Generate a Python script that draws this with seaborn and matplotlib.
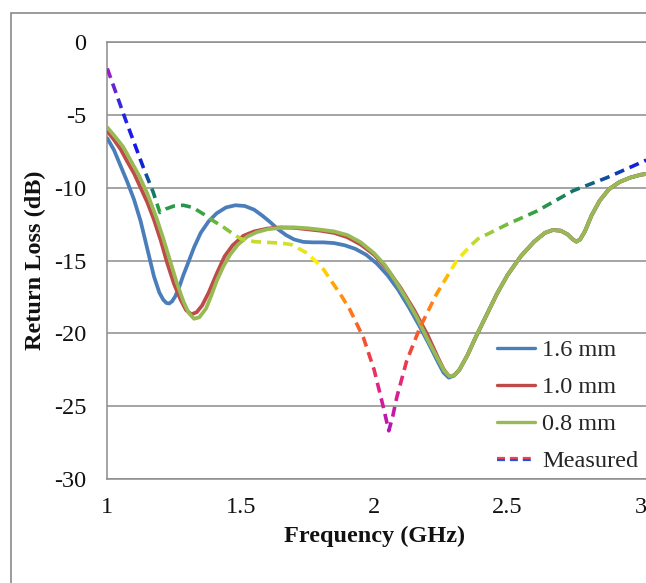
import numpy as np
import pandas as pd
import matplotlib
matplotlib.use('Agg')
import matplotlib.pyplot as plt
import seaborn as sns
from matplotlib.collections import LineCollection
from matplotlib.colors import LinearSegmentedColormap, Normalize
from matplotlib.legend_handler import HandlerBase
from matplotlib.lines import Line2D
from matplotlib.patches import Rectangle

# --- data (frequency in GHz, return loss in dB) ---
freq_16 = [1.000, 1.025, 1.050, 1.075, 1.100, 1.125, 1.150, 1.175, 1.195, 1.210,
           1.222, 1.232, 1.243, 1.255, 1.270, 1.285, 1.300, 1.325, 1.350, 1.380,
           1.410, 1.445, 1.480, 1.515, 1.550, 1.580, 1.610, 1.640, 1.670, 1.700,
           1.735, 1.770, 1.810, 1.850, 1.890, 1.930, 1.970, 2.010, 2.050, 2.090,
           2.130, 2.170, 2.210, 2.240, 2.260, 2.280]
rl_16 = [-6.6, -7.4, -8.5, -9.6, -10.8, -12.3, -14.2, -16.1, -17.2, -17.7,
         -17.92, -17.95, -17.8, -17.45, -16.8, -16.0, -15.3, -14.1, -13.1, -12.3,
         -11.75, -11.35, -11.2, -11.25, -11.5, -11.9, -12.35, -12.85, -13.25, -13.55,
         -13.72, -13.75, -13.75, -13.8, -13.95, -14.2, -14.6, -15.2, -16.0, -17.0,
         -18.2, -19.5, -20.9, -22.0, -22.7, -23.05]

freq_10 = [1.000, 1.025, 1.050, 1.075, 1.100, 1.125, 1.150, 1.175, 1.200, 1.225,
           1.250, 1.275, 1.295, 1.315, 1.335, 1.355, 1.380, 1.410, 1.440, 1.470,
           1.510, 1.550, 1.600, 1.650, 1.700, 1.750, 1.800, 1.850, 1.900, 1.950,
           2.000, 2.050, 2.100, 2.150, 2.200, 2.240, 2.260, 2.280]
rl_10 = [-6.1, -6.7, -7.35, -8.2, -9.0, -10.0, -11.0, -12.2, -13.6, -15.2,
         -16.6, -17.7, -18.4, -18.7, -18.55, -18.1, -17.2, -15.9, -14.7, -13.95,
         -13.3, -13.0, -12.8, -12.72, -12.75, -12.85, -12.95, -13.1, -13.4, -13.9,
         -14.6, -15.6, -16.9, -18.4, -20.1, -21.7, -22.45, -22.95]

freq_08 = [1.000, 1.030, 1.060, 1.090, 1.120, 1.150, 1.185, 1.210, 1.235, 1.260,
           1.285, 1.305, 1.325, 1.345, 1.370, 1.390, 1.410, 1.435, 1.460, 1.490,
           1.525, 1.560, 1.600, 1.650, 1.700, 1.750, 1.800, 1.850, 1.900, 1.950,
           2.000, 2.040, 2.080, 2.120, 2.160, 2.200, 2.240, 2.262, 2.282]
rl_08 = [-5.85, -6.5, -7.2, -8.2, -9.2, -10.4, -12.1, -13.5, -15.0, -16.5,
         -17.8, -18.6, -19.0, -18.9, -18.3, -17.4, -16.4, -15.4, -14.6, -13.9,
         -13.35, -13.05, -12.85, -12.75, -12.72, -12.78, -12.88, -13.0, -13.25, -13.75,
         -14.5, -15.3, -16.4, -17.6, -18.9, -20.4, -21.8, -22.55, -22.95]

# above ~2.3 GHz the three simulated curves lie on top of each other
freq_tail = [2.300, 2.320, 2.350, 2.380, 2.420, 2.460, 2.500, 2.550, 2.600, 2.640,
             2.670, 2.700, 2.725, 2.745, 2.758, 2.772, 2.790, 2.815, 2.845, 2.880,
             2.920, 2.960, 3.000, 3.020]
rl_tail = [-22.9, -22.5, -21.5, -20.3, -18.8, -17.3, -16.0, -14.7, -13.7, -13.1,
           -12.9, -12.95, -13.2, -13.55, -13.7, -13.55, -13.0, -11.9, -10.9, -10.1,
           -9.6, -9.3, -9.1, -9.05]

freq_meas = [1.000, 1.070, 1.135, 1.172, 1.197, 1.220, 1.250, 1.285, 1.320, 1.360,
             1.400, 1.435, 1.470, 1.500, 1.550, 1.600, 1.650, 1.690, 1.720, 1.750,
             1.784, 1.810, 1.847, 1.880, 1.910, 1.960, 2.000, 2.035, 2.055, 2.070,
             2.085, 2.122, 2.172, 2.234, 2.280, 2.310, 2.360, 2.390, 2.440, 2.500,
             2.610, 2.746, 2.873, 3.020]
rl_meas = [-1.8, -5.4, -8.6, -10.3, -11.7, -11.45, -11.25, -11.2, -11.35, -11.8,
           -12.3, -12.7, -13.15, -13.5, -13.7, -13.75, -13.8, -13.9, -14.2, -14.5,
           -15.1, -15.6, -16.6, -17.5, -18.4, -20.3, -22.5, -25.1, -26.7, -25.7,
           -24.4, -21.9, -19.6, -17.3, -15.9, -15.0, -14.0, -13.5, -13.05, -12.5,
           -11.6, -10.2, -9.3, -8.1]

series_names = ['1.6 mm', '1.0 mm', '0.8 mm']
measured_name = 'Measured'
x_ticks = [1, 1.5, 2, 2.5, 3]
x_tick_labels = ['1', '1.5', '2', '2.5', '3']
y_ticks = [-30, -25, -20, -15, -10, -5, 0]

# --- styles ---
line_colors = ['#4A7EBB', '#BE4B48', '#98B954']
grid_color = '#8C8C8C'
# measured curve is coloured by its level, as in the original
grad_levels = [-26.7, -24.0, -21.5, -19.0, -16.5, -15.0, -14.0, -13.0, -11.6, -10.0, -8.0, -4.5, -1.8]
grad_colors = ['#B414B4', '#E0208C', '#F04040', '#FF6A20', '#FFAA00', '#FFF000', '#DCE228',
               '#96C83C', '#30A040', '#0E7070', '#1010F0', '#2828E0', '#A020C8']


def dashed_gradient(ax, x, y, cmap, norm, on=10.0, off=6.0, lw=2.6):
    """Cut the polyline into dashes (in pixels) and colour each dash by its level."""
    pts = ax.transData.transform(np.column_stack([x, y]))
    cum = np.concatenate([[0], np.cumsum(np.hypot(*np.diff(pts, axis=0).T))])
    inv = ax.transData.inverted()
    segs, cols = [], []
    s = 0.0
    while s < cum[-1]:
        e = min(s + on, cum[-1])
        ss = np.concatenate([[s], cum[(cum > s) & (cum < e)], [e]])
        px = np.interp(ss, cum, pts[:, 0])
        py = np.interp(ss, cum, pts[:, 1])
        d = inv.transform(np.column_stack([px, py]))
        segs.append(d)
        cols.append(cmap(norm(d[:, 1].mean())))
        s += on + off
    ax.add_collection(LineCollection(segs, colors=cols, linewidths=lw, capstyle='butt', zorder=4))


class SplitDashHandler(HandlerBase):
    """Legend key of the measured curve: red dashes over blue dashes."""
    def create_artists(self, legend, orig_handle, xdescent, ydescent, width, height, fontsize, trans):
        yc = height / 2 - ydescent
        xs = [-xdescent, width - xdescent]
        top = Line2D(xs, [yc + 0.8] * 2, color='#FF4040', lw=1.6, ls=(0, (3.6, 2.2)), transform=trans)
        bot = Line2D(xs, [yc - 0.8] * 2, color='#2850E0', lw=1.6, ls=(0, (3.6, 2.2)), transform=trans)
        return [top, bot]


class LevelNorm(Normalize):
    # place the colour anchors at the listed levels
    def __call__(self, value, clip=None):
        return np.interp(value, grad_levels, np.linspace(0, 1, len(grad_levels)))


sns.set_theme(style='white')
plt.rcParams['font.family'] = ['Liberation Serif', 'DejaVu Serif']
plt.rcParams['axes.unicode_minus'] = False

W, H = 646, 583
fig = plt.figure(figsize=(W / 100, H / 100), dpi=100)
ax = fig.add_axes([107.3 / W, (H - 478.8) / H, (W - 107.3) / W, (478.8 - 42.3) / H])
ax.set_xlim(1, 1 + (W - 107.3) / 266.8)
ax.set_ylim(-30, 0)

frames = []
for name, fx, fy in [(series_names[0], freq_16, rl_16),
                     (series_names[1], freq_10, rl_10),
                     (series_names[2], freq_08, rl_08)]:
    frames.append(pd.DataFrame({'freq': fx + freq_tail, 'rl': fy + rl_tail, 'thickness': name}))
df = pd.concat(frames, ignore_index=True)

sns.lineplot(data=df, x='freq', y='rl', hue='thickness', hue_order=series_names,
             palette=dict(zip(series_names, line_colors)), estimator=None, sort=False,
             linewidth=2.7, legend=False, ax=ax, zorder=3)

cmap = LinearSegmentedColormap.from_list(
    'meas', list(zip(np.linspace(0, 1, len(grad_levels)), grad_colors)))
dashed_gradient(ax, freq_meas, rl_meas, cmap, LevelNorm())

# axes cosmetics (Excel look)
ax.set_xticks(x_ticks)
ax.set_xticklabels(x_tick_labels)
ax.set_yticks(y_ticks)
ax.tick_params(axis='both', length=0, labelsize=17.5, colors='#111111')
ax.tick_params(axis='y', pad=15)
ax.tick_params(axis='x', pad=13)
ax.yaxis.grid(True, color=grid_color, linewidth=1.1)
ax.xaxis.grid(False)
for side in ['top', 'bottom', 'left']:
    ax.spines[side].set_color(grid_color)
    ax.spines[side].set_linewidth(1.1)
ax.spines['right'].set_visible(False)

ax.set_xlabel('Frequency (GHz)', fontsize=17.5, fontweight='bold', color='#111111')
ax.set_ylabel('Return Loss (dB)', fontsize=17.5, fontweight='bold', color='#111111')
ax.xaxis.set_label_coords(0.4955, -0.108)
ax.yaxis.set_label_coords(-0.114, 0.5)

handles = [Line2D([], [], color=c, lw=2.4) for c in line_colors]
meas_handle = Line2D([], [])
handles.append(meas_handle)
ax.legend(handles, series_names + [measured_name], handler_map={meas_handle: SplitDashHandler()},
          loc='upper left', bbox_to_anchor=(497 / W, 1 - 339 / H), bbox_transform=fig.transFigure,
          frameon=False, fontsize=17.5, handlelength=1.55, handletextpad=0.3,
          labelspacing=0.62, borderpad=0, borderaxespad=0)

# outer chart frame (cut off on the right and bottom in the original)
fig.patches.append(Rectangle((11 / W, -0.2), 2, 1.2 - 13 / H, transform=fig.transFigure,
                             fill=False, edgecolor='#8A8A8A', linewidth=1.2))

fig.savefig('out.png', dpi=100)
